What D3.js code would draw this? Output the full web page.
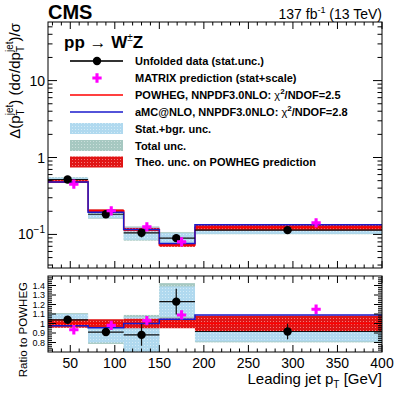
<!DOCTYPE html>
<html>
<head>
<meta charset="utf-8">
<script src="https://cdn.jsdelivr.net/npm/d3@7"></script>
<style>
body{margin:0;background:#fff;}
text{font-family:"Liberation Sans",Arial,Helvetica,sans-serif;}
</style>
</head>
<body>
<svg id="chart"></svg>
<script>
// values
var binEdges = [25, 70, 110, 150, 190, 400]
var dataVal = [0.518, 0.183, 0.105, 0.0895, 0.1137]
var dataX = [47, 90, 130, 169, 294]
var dataErr = [0.03, 0.04, 0.13, 0.11, 0.09]
var statRel = [0.06, 0.11, 0.19, 0.16, 0.105]
var totRel = [0.07, 0.125, 0.21, 0.195, 0.115]
var powhegVal = [0.488, 0.203, 0.116, 0.0726, 0.123]
var theoRel = [0.045, 0.045, 0.05, 0.05, 0.083]
var amcVal = [0.48, 0.194, 0.116, 0.076, 0.134]
var matrixVal = [0.45, 0.203, 0.1255, 0.080, 0.1415]
var matrixX = [54, 96, 136, 175, 326]
var dataRatio = [1.039, 0.91, 0.88, 1.23, 0.916]
var matrixRatio = [0.934, 0.98, 1.03, 1.09, 1.15]
var amcRatio = [0.976, 0.955, 1.0, 1.045, 1.09]
var xTicks = [50, 100, 150, 200, 250, 300, 350, 400]
var ratioTicks = [0.8, 0.9, 1, 1.1, 1.2, 1.3, 1.4]

var screen = {width: 399, height: 394}
var frame = {left: 48, right: 382, top: 22, mainBottom: 268, ratioTop: 276, ratioBottom: 352}

var svg = d3.select('#chart')
  .attr('width', screen.width)
  .attr('height', screen.height)

var xScale = d3.scaleLinear().domain([25, 400]).range([frame.left, frame.right])
var yScale = d3.scaleLog().domain([0.0366, 57.8]).range([frame.mainBottom, frame.top])
var rScale = d3.scaleLinear().domain([0.7, 1.5]).range([frame.ratioBottom, frame.ratioTop])

// dotted fill patterns (ROOT style)
var defs = svg.append('defs')
var pats = [['patStat', '#b0d9ef', '#d3ebf7'], ['patTot', '#a6c8c1', '#cadfdb'], ['patTheo', '#e01414', '#f27a7a']]
pats.forEach(function(p){
  var pat = defs.append('pattern').attr('id', p[0]).attr('width', 3).attr('height', 3).attr('patternUnits', 'userSpaceOnUse')
  pat.append('rect').attr('width', 3).attr('height', 3).attr('fill', p[1])
  pat.append('rect').attr('width', 1).attr('height', 1).attr('fill', p[2])
})
defs.append('clipPath').attr('id', 'clipMain').append('rect')
  .attr('x', frame.left).attr('y', frame.top).attr('width', frame.right - frame.left).attr('height', frame.mainBottom - frame.top)
defs.append('clipPath').attr('id', 'clipRatio').append('rect')
  .attr('x', frame.left).attr('y', frame.ratioTop).attr('width', frame.right - frame.left).attr('height', frame.ratioBottom - frame.ratioTop)

var bins = d3.range(5)

var stepLine = function(yS, vals){
  var pts = vals.map(function(v, i){return [binEdges[i], v]})
  pts.push([binEdges[5], vals[4]])
  return d3.line().x(function(d){return xScale(d[0])}).y(function(d){return yS(d[1])}).curve(d3.curveStepAfter)(pts)
}

var drawPanel = function(g, yS, centre, val, theoC, amc, mval, mx){
  // total and stat bands around data
  g.selectAll('rect.tot').data(bins).enter().append('rect').attr('class', 'tot')
    .attr('x', function(i){return xScale(binEdges[i])})
    .attr('width', function(i){return xScale(binEdges[i+1]) - xScale(binEdges[i])})
    .attr('y', function(i){return yS(centre(i, totRel[i], 1))})
    .attr('height', function(i){return yS(centre(i, totRel[i], -1)) - yS(centre(i, totRel[i], 1))})
    .attr('fill', 'url(#patTot)')
  g.selectAll('rect.stat').data(bins).enter().append('rect').attr('class', 'stat')
    .attr('x', function(i){return xScale(binEdges[i])})
    .attr('width', function(i){return xScale(binEdges[i+1]) - xScale(binEdges[i])})
    .attr('y', function(i){return yS(centre(i, statRel[i], 1))})
    .attr('height', function(i){return yS(centre(i, statRel[i], -1)) - yS(centre(i, statRel[i], 1))})
    .attr('fill', 'url(#patStat)')
  // theory band on POWHEG
  g.selectAll('rect.theo').data(bins).enter().append('rect').attr('class', 'theo')
    .attr('x', function(i){return xScale(binEdges[i])})
    .attr('width', function(i){return xScale(binEdges[i+1]) - xScale(binEdges[i])})
    .attr('y', function(i){return yS(theoC[i] * (1 + theoRel[i]))})
    .attr('height', function(i){return yS(theoC[i] * (1 - theoRel[i])) - yS(theoC[i] * (1 + theoRel[i]))})
    .attr('fill', 'url(#patTheo)')
  g.append('path').attr('d', stepLine(yS, theoC)).attr('fill', 'none').attr('stroke', '#ff0000').attr('stroke-width', 1.5)
  g.append('path').attr('d', stepLine(yS, amc)).attr('fill', 'none').attr('stroke', '#1a1acc').attr('stroke-width', 1.5)
  // data
  g.selectAll('line.xerr').data(bins).enter().append('line')
    .attr('x1', function(i){return xScale(binEdges[i])}).attr('x2', function(i){return xScale(binEdges[i+1])})
    .attr('y1', function(i){return yS(val[i])}).attr('y2', function(i){return yS(val[i])})
    .attr('stroke', '#111').attr('stroke-width', 1.2)
  g.selectAll('line.yerr').data(bins).enter().append('line')
    .attr('x1', function(i){return xScale(dataX[i])}).attr('x2', function(i){return xScale(dataX[i])})
    .attr('y1', function(i){return yS(val[i] * (1 + dataErr[i]))}).attr('y2', function(i){return yS(val[i] * (1 - dataErr[i]))})
    .attr('stroke', '#111').attr('stroke-width', 1.2)
  g.selectAll('circle').data(bins).enter().append('circle')
    .attr('cx', function(i){return xScale(dataX[i])}).attr('cy', function(i){return yS(val[i])})
    .attr('r', 4.2).attr('fill', '#000')
  g.selectAll('path.mx').data(bins).enter().append('path')
    .attr('transform', function(i){return 'translate(' + xScale(mx[i]) + ',' + yS(mval[i]) + ')'})
    .attr('d', d3.symbol().type(d3.symbolCross).size(48))
    .attr('fill', '#ff00ff')
}

// main panel
var mainG = svg.append('g').attr('clip-path', 'url(#clipMain)')
drawPanel(mainG, yScale, function(i, rel, s){return dataVal[i] * (1 + s * rel)}, dataVal, powhegVal, amcVal, matrixVal, matrixX)

// ratio panel
var ones = bins.map(function(){return 1})
var ratioG = svg.append('g').attr('clip-path', 'url(#clipRatio)')
drawPanel(ratioG, rScale, function(i, rel, s){return dataRatio[i] + s * rel}, dataRatio, ones, amcRatio, matrixRatio, matrixX)

// frames
svg.append('rect').attr('x', frame.left).attr('y', frame.top)
  .attr('width', frame.right - frame.left).attr('height', frame.mainBottom - frame.top)
  .attr('fill', 'none').attr('stroke', '#000').attr('stroke-width', 1)
svg.append('rect').attr('x', frame.left).attr('y', frame.ratioTop)
  .attr('width', frame.right - frame.left).attr('height', frame.ratioBottom - frame.ratioTop)
  .attr('fill', 'none').attr('stroke', '#000').attr('stroke-width', 1)

// x ticks (both panels, top and bottom)
var xMinor = d3.range(30, 401, 10)
var tickG = svg.append('g').attr('stroke', '#000').attr('stroke-width', 1)
var xTickRows = [[frame.mainBottom, -1], [frame.top, 1], [frame.ratioBottom, -1], [frame.ratioTop, 1]]
xTickRows.forEach(function(row){
  tickG.selectAll(null).data(xMinor).enter().append('line')
    .attr('x1', function(d){return xScale(d)}).attr('x2', function(d){return xScale(d)})
    .attr('y1', row[0]).attr('y2', function(d){return row[0] + row[1] * (d % 50 == 0 ? 7 : 3.5)})
})

// log y ticks main
var yMinor = []
;[0.01, 0.1, 1, 10].forEach(function(dec){
  d3.range(1, 10).forEach(function(k){
    var v = dec * k
    if (v >= 0.0366 && v <= 57.8) yMinor.push(v)
  })
})
;[[frame.left, 1], [frame.right, -1]].forEach(function(col){
  tickG.selectAll(null).data(yMinor).enter().append('line')
    .attr('y1', function(d){return yScale(d)}).attr('y2', function(d){return yScale(d)})
    .attr('x1', col[0]).attr('x2', function(d){
      var major = Math.abs(Math.log10(d) - Math.round(Math.log10(d))) < 1e-6
      return col[0] + col[1] * (major ? 9 : 4.5)})
})

// ratio y ticks
var rMinor = d3.range(36, 75).map(function(k){return k * 0.02})
;[[frame.left, 1], [frame.right, -1]].forEach(function(col){
  tickG.selectAll(null).data(rMinor).enter().append('line')
    .attr('y1', function(d){return rScale(d)}).attr('y2', function(d){return rScale(d)})
    .attr('x1', col[0]).attr('x2', function(d, i){return col[0] + col[1] * ((i + 1) % 5 == 0 ? 8 : 4)})
})

// tick labels
svg.selectAll('text.xl').data(xTicks).enter().append('text')
  .attr('x', function(d){return xScale(d)}).attr('y', 368)
  .attr('text-anchor', 'middle').attr('font-size', '14px').text(function(d){return d})

svg.append('text').attr('x', 45).attr('y', yScale(10) + 5).attr('text-anchor', 'end').attr('font-size', '14px').text('10')
svg.append('text').attr('x', 45).attr('y', yScale(1) + 5).attr('text-anchor', 'end').attr('font-size', '14px').text('1')
svg.append('text').attr('x', 45).attr('y', yScale(0.1) + 5).attr('text-anchor', 'end').attr('font-size', '14px')
  .html('10<tspan dy="-6" font-size="10px">\u22121</tspan>')

svg.selectAll('text.rl').data(ratioTicks).enter().append('text')
  .attr('x', 45).attr('y', function(d){return rScale(d) + 3})
  .attr('text-anchor', 'end').attr('font-size', '9px').text(function(d){return d})

// axis titles
svg.append('text').attr('transform', 'translate(20,23) rotate(-90)').attr('text-anchor', 'end').attr('font-size', '15px')
  .html('\u0394(p<tspan dy="4" font-size="10px">T</tspan><tspan dx="-6" dy="-11" font-size="10px">jet</tspan><tspan dy="7">) (d\u03c3/dp</tspan><tspan dy="4" font-size="10px">T</tspan><tspan dx="-6" dy="-11" font-size="10px">jet</tspan><tspan dy="7">)/\u03c3</tspan>')
svg.append('text').attr('transform', 'translate(27,282) rotate(-90)').attr('text-anchor', 'end').attr('font-size', '11.5px')
  .text('Ratio to POWHEG')
svg.append('text').attr('x', 382).attr('y', 384).attr('text-anchor', 'end').attr('font-size', '15px')
  .html('Leading jet p<tspan dy="4" font-size="10px">T</tspan><tspan dy="-4"> [GeV]</tspan>')

// header
svg.append('text').attr('x', 48).attr('y', 18.5).attr('font-size', '20px').attr('font-weight', 'bold').text('CMS')
svg.append('text').attr('x', 382).attr('y', 18.5).attr('text-anchor', 'end').attr('font-size', '14px')
  .html('137 fb<tspan dy="-6" font-size="9px">-1</tspan><tspan dy="6"> (13 TeV)</tspan>')
svg.append('text').attr('x', 64).attr('y', 48).attr('font-size', '17px').attr('font-weight', 'bold')
  .html('pp <tspan font-weight="normal">\u2192</tspan> W<tspan dy="-7" font-size="10px" font-weight="normal">\u00b1</tspan><tspan dy="7">Z</tspan>')

// legend
var legY = [61, 78, 95, 112, 128.5, 145.5, 162]
var legText = ['Unfolded data (stat.unc.)', 'MATRIX prediction (stat+scale)',
  'POWHEG, NNPDF3.0NLO: <tspan font-weight="normal">\u03c7</tspan><tspan dy="-5" font-size="8px">2</tspan><tspan dy="5">/NDOF=2.5</tspan>',
  'aMC@NLO, NNPDF3.0NLO: <tspan font-weight="normal">\u03c7</tspan><tspan dy="-5" font-size="8px">2</tspan><tspan dy="5">/NDOF=2.8</tspan>',
  'Stat.+bgr. unc.', 'Total unc.', 'Theo. unc. on POWHEG prediction']
var leg = svg.append('g')
leg.selectAll('text').data(legText).enter().append('text')
  .attr('x', 135).attr('y', function(d, i){return legY[i] + 4})
  .attr('font-size', '11px').attr('font-weight', 'bold').html(function(d){return d})
leg.append('line').attr('x1', 70).attr('x2', 123).attr('y1', legY[0]).attr('y2', legY[0]).attr('stroke', '#333').attr('stroke-width', 2)
leg.append('circle').attr('cx', 97).attr('cy', legY[0]).attr('r', 4.2).attr('fill', '#000')
leg.append('path').attr('transform', 'translate(97,' + legY[1] + ')').attr('d', d3.symbol().type(d3.symbolCross).size(48)).attr('fill', '#ff00ff')
leg.append('line').attr('x1', 70).attr('x2', 123).attr('y1', legY[2]).attr('y2', legY[2]).attr('stroke', '#ff0000').attr('stroke-width', 1.5)
leg.append('line').attr('x1', 70).attr('x2', 123).attr('y1', legY[3]).attr('y2', legY[3]).attr('stroke', '#1a1acc').attr('stroke-width', 1.5)
;['patStat', 'patTot', 'patTheo'].forEach(function(p, i){
  leg.append('rect').attr('x', 70).attr('y', legY[4 + i] - 5.5).attr('width', 53).attr('height', 11)
    .attr('fill', 'url(#' + p + ')')
})
</script>
</body>
</html>
